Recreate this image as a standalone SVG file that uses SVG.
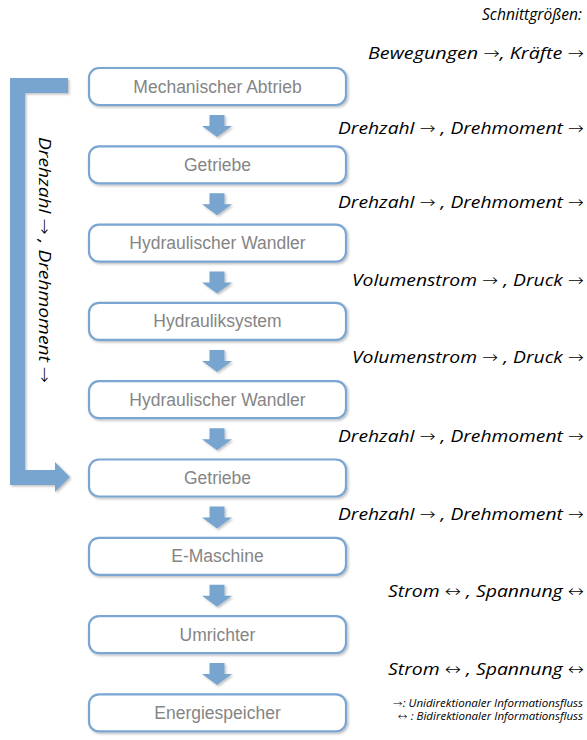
<svg xmlns="http://www.w3.org/2000/svg" width="587" height="740" viewBox="0 0 587 740">
<defs>
<filter id="sh" x="-10%" y="-20%" width="130%" height="160%">
<feDropShadow dx="1.5" dy="1.5" stdDeviation="1.2" flood-color="#000" flood-opacity="0.25"/>
</filter>
<path id="darr" d="M-7.5,0 H7.5 V11 H15 L0,22 L-15,11 H-7.5 Z"/>
</defs>
<style>
.box{fill:#fff;stroke:#7aa6d1;stroke-width:2.2;filter:url(#sh)}
.lbl{font-family:"Liberation Sans",Arial,sans-serif;font-size:17.5px;fill:#858585;text-anchor:middle}
.arr{fill:#78a5cf;filter:url(#sh)}
.cut{font-family:"Open Sans","Noto Sans",sans-serif;font-style:italic;font-size:16.5px;fill:#000;text-anchor:end}
.leg{font-family:"Open Sans","Noto Sans",sans-serif;font-style:italic;font-size:10.5px;fill:#000;text-anchor:end}
.a{font-family:"DejaVu Sans",sans-serif;font-style:normal;font-weight:200}
</style>
<rect width="587" height="740" fill="#fff"/>
<g id="connectors">
<use href="#darr" class="arr" x="217" y="115"/>
<use href="#darr" class="arr" x="217" y="193.3"/>
<use href="#darr" class="arr" x="217" y="271.6"/>
<use href="#darr" class="arr" x="217" y="349.9"/>
<use href="#darr" class="arr" x="217" y="428.2"/>
<use href="#darr" class="arr" x="217" y="506.5"/>
<use href="#darr" class="arr" x="217" y="584.8"/>
<use href="#darr" class="arr" x="217" y="663.1"/>
<path class="arr" d="M10,78 H68 V93 H25 V470 H55 V462 L70,477 L55,492 V485 H10 Z"/>
</g>
<g id="n1"><rect class="box" x="89" y="68" width="257" height="37" rx="10"/><text class="lbl" x="217.5" y="92.5">Mechanischer Abtrieb</text></g>
<g id="n2"><rect class="box" x="89" y="146.3" width="257" height="37" rx="10"/><text class="lbl" x="217.5" y="170.8">Getriebe</text></g>
<g id="n3"><rect class="box" x="89" y="224.6" width="257" height="37" rx="10"/><text class="lbl" x="217.5" y="249.1">Hydraulischer Wandler</text></g>
<g id="n4"><rect class="box" x="89" y="302.9" width="257" height="37" rx="10"/><text class="lbl" x="217.5" y="327.4">Hydrauliksystem</text></g>
<g id="n5"><rect class="box" x="89" y="381.2" width="257" height="37" rx="10"/><text class="lbl" x="217.5" y="405.7">Hydraulischer Wandler</text></g>
<g id="n6"><rect class="box" x="89" y="459.5" width="257" height="37" rx="10"/><text class="lbl" x="217.5" y="484">Getriebe</text></g>
<g id="n7"><rect class="box" x="89" y="537.8" width="257" height="37" rx="10"/><text class="lbl" x="217.5" y="562.3">E-Maschine</text></g>
<g id="n8"><rect class="box" x="89" y="616.1" width="257" height="37" rx="10"/><text class="lbl" x="217.5" y="640.6">Umrichter</text></g>
<g id="n9"><rect class="box" x="89" y="694.4" width="257" height="37" rx="10"/><text class="lbl" x="217.5" y="718.9">Energiespeicher</text></g>
<g id="labels">
<text class="cut" x="582" y="20" textLength="100" lengthAdjust="spacingAndGlyphs">Schnittgrößen:</text>
<text class="cut" x="584" y="59" textLength="216" lengthAdjust="spacingAndGlyphs">Bewegungen <tspan class="a">→</tspan>, Kräfte <tspan class="a">→</tspan></text>
<text class="cut" x="584" y="134" textLength="246" lengthAdjust="spacingAndGlyphs">Drehzahl <tspan class="a">→</tspan> , Drehmoment <tspan class="a">→</tspan></text>
<text class="cut" x="584" y="208" textLength="246" lengthAdjust="spacingAndGlyphs">Drehzahl <tspan class="a">→</tspan> , Drehmoment <tspan class="a">→</tspan></text>
<text class="cut" x="584" y="286" textLength="232" lengthAdjust="spacingAndGlyphs">Volumenstrom <tspan class="a">→</tspan> , Druck <tspan class="a">→</tspan></text>
<text class="cut" x="584" y="363" textLength="232" lengthAdjust="spacingAndGlyphs">Volumenstrom <tspan class="a">→</tspan> , Druck <tspan class="a">→</tspan></text>
<text class="cut" x="584" y="442" textLength="246" lengthAdjust="spacingAndGlyphs">Drehzahl <tspan class="a">→</tspan> , Drehmoment <tspan class="a">→</tspan></text>
<text class="cut" x="584" y="520" textLength="246" lengthAdjust="spacingAndGlyphs">Drehzahl <tspan class="a">→</tspan> , Drehmoment <tspan class="a">→</tspan></text>
<text class="cut" x="584" y="597" textLength="196" lengthAdjust="spacingAndGlyphs">Strom <tspan class="a">↔</tspan> , Spannung <tspan class="a">↔</tspan></text>
<text class="cut" x="584" y="675" textLength="196" lengthAdjust="spacingAndGlyphs">Strom <tspan class="a">↔</tspan> , Spannung <tspan class="a">↔</tspan></text>
<text class="leg" x="583" y="707" textLength="190" lengthAdjust="spacingAndGlyphs"><tspan class="a">→</tspan>: Unidirektionaler Informationsfluss</text>
<text class="leg" x="583" y="720" textLength="185" lengthAdjust="spacingAndGlyphs"><tspan class="a">↔</tspan> : Bidirektionaler Informationsfluss</text>
<text class="cut" transform="translate(39,260) rotate(90)" style="text-anchor:middle" textLength="246" lengthAdjust="spacingAndGlyphs">Drehzahl <tspan class="a">→</tspan> , Drehmoment <tspan class="a">→</tspan></text>
</g>
</svg>
